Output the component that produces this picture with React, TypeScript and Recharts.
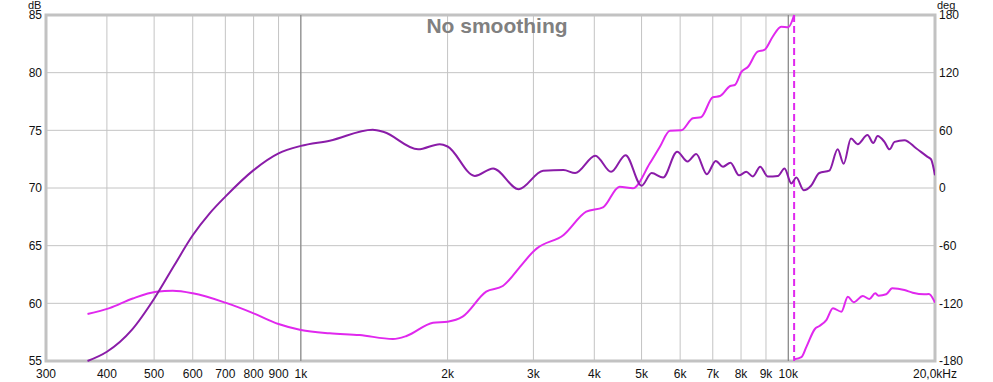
import {
  LineChart,
  Line,
  XAxis,
  YAxis,
  CartesianGrid,
  ReferenceLine,
  ReferenceArea,
} from "recharts";

// frequency ticks (Hz)
const freqTicks = [
  300, 400, 500, 600, 700, 800, 900, 1000, 2000, 3000, 4000, 5000, 6000, 7000,
  8000, 9000, 10000, 20000,
];
const dbTicks = [55, 60, 65, 70, 75, 80, 85];
const degTicks = [-180, -120, -60, 0, 60, 120, 180];
const decadeLines = [1000, 10000];

// magnitude, dB
const magFreq = [
  365, 400, 450, 500, 550, 600, 650, 700, 800, 900, 1000, 1146, 1404, 1480, 1740,
  1927, 2000, 2275, 2480, 2800, 3140, 3460, 3654, 4020, 4330, 4636, 5000, 5244,
  5536, 5915, 6216, 6473, 6808, 7098, 7349, 7610, 7925, 8199, 8460, 8760, 9070,
  9520, 9826, 10143, 10390, 10755, 11135, 11580, 12140, 12630, 12990, 13450,
  13880, 14540, 14940, 15250, 15750, 16130, 16520, 17310, 18290, 19310, 19620,
  20000,
];
const magDb = [
  55.0, 55.8, 57.7, 60.4, 63.3, 65.9, 67.8, 69.25, 71.55, 73.0, 73.65, 74.1,
  75.05, 74.85, 73.35, 73.8, 73.6, 71.05, 71.7, 69.9, 71.5, 71.55, 71.3, 72.8,
  71.4, 72.85, 70.2, 71.3, 70.9, 73.15, 72.3, 72.95, 71.2, 72.35, 71.85, 72.2,
  71.1, 71.4, 71.0, 71.85, 71.0, 71.05, 71.7, 70.4, 70.9, 69.8, 70.2, 71.3,
  71.5, 73.35, 72.1, 74.3, 73.8, 74.6, 73.9, 74.5, 74.0, 73.35, 74.0, 74.15,
  73.45, 72.7, 72.5, 71.1,
];

// phase below the wrap, deg
const phaseFreqA = [
  365, 405, 452, 505, 546, 600, 700, 800, 900, 1000, 1146, 1320, 1545, 1647,
  1867, 2000, 2147, 2400, 2596, 2855, 3000, 3050, 3460, 3850, 4167, 4508, 4800,
  5200, 5453, 5717, 6032, 6372, 6620, 7000, 7245, 7600, 7770, 8020, 8270, 8650,
  8930, 9290, 9670, 10000, 10280,
];
const phaseDegA = [
  -131, -125, -115, -108, -107, -109.6, -119.3, -130.4, -141.5, -147.7, -151.2,
  -153, -157.1, -154, -140.2, -139.1, -133.9, -107.9, -102, -78.4, -66, -62.8,
  -48.9, -24.7, -20.1, 1.4, -0.3, 25.7, 43, 59.6, 60, 72.5, 73.6, 94.4, 95.7,
  106.1, 107.2, 121, 126.2, 141.8, 143.6, 157.4, 167.8, 167.2, 180,
];

// phase after the wrap
const phaseFreqB = [
  10280, 10640, 10900, 11340, 11580, 11970, 12350, 12850, 13250, 13620, 14220,
  14670, 15080, 15310, 15880, 16340, 17310, 18000, 19010, 19430, 20000,
];
const phaseDegB = [
  -178.2, -176, -165.1, -146.7, -143.6, -137.4, -125.2, -128.7, -113.1, -118.9,
  -112.4, -115.5, -109.6, -112, -110.6, -104.4, -106.1, -108.9, -110.6, -110.3,
  -119.3,
];

const wrapFreq = [10280, 10280];
const wrapDeg = [180, -180];

const magData = magFreq.map((f, i) => ({ f, v: magDb[i] }));
const phaseAData = phaseFreqA.map((f, i) => ({ f, v: phaseDegA[i] }));
const phaseBData = phaseFreqB.map((f, i) => ({ f, v: phaseDegB[i] }));
const wrapData = wrapFreq.map((f, i) => ({ f, v: wrapDeg[i] }));

const MAG = "#8a1ca8";
const PHASE = "#e028ee";
const FONT = "'Liberation Sans', Arial, sans-serif";

const fmtFreq = (f: number) =>
  f === 20000 ? "20,0kHz" : f >= 1000 ? `${f / 1000}k` : String(f);

export default function App() {
  const tick = { fill: "#111", fontSize: 12, fontFamily: FONT };
  return (
    <div
      style={{
        position: "absolute",
        left: 0,
        top: 0,
        width: 993,
        height: 382,
        background: "#fff",
        fontFamily: FONT,
      }}
    >
      <LineChart
        width={993}
        height={382}
        margin={{ top: 15, right: 0, left: 0, bottom: 0 }}
      >
        <CartesianGrid stroke="#c4c4c4" yAxisId="dB" />
        <XAxis
          dataKey="f"
          type="number"
          scale="log"
          domain={[300, 20000]}
          allowDataOverflow
          ticks={freqTicks}
          tickFormatter={fmtFreq}
          interval={0}
          tick={tick}
          axisLine={false}
          tickLine={false}
          tickSize={0}
          tickMargin={8}
          height={21}
        />
        <YAxis
          yAxisId="dB"
          domain={[55, 85]}
          ticks={dbTicks}
          interval={0}
          tick={tick}
          axisLine={false}
          tickLine={false}
          tickSize={0}
          tickMargin={4}
          width={46}
        />
        <YAxis
          yAxisId="deg"
          orientation="right"
          domain={[-180, 180]}
          ticks={degTicks}
          interval={0}
          tick={{ ...tick, textAnchor: "start" }}
          axisLine={false}
          tickLine={false}
          tickSize={0}
          tickMargin={4}
          width={58}
        />
        {decadeLines.map((f) => (
          <ReferenceLine key={f} x={f} yAxisId="dB" stroke="#7c7c7c" />
        ))}
        <ReferenceArea
          x1={300}
          x2={20000}
          y1={55}
          y2={85}
          yAxisId="dB"
          fill="none"
          stroke="#c2c2c2"
          strokeWidth={3}
        />
        <Line
          data={wrapData}
          yAxisId="deg"
          dataKey="v"
          stroke={PHASE}
          strokeWidth={2}
          strokeDasharray="7 4"
          dot={false}
          isAnimationActive={false}
        />
        <Line
          data={phaseAData}
          yAxisId="deg"
          dataKey="v"
          type="monotone"
          stroke={PHASE}
          strokeWidth={2}
          dot={false}
          isAnimationActive={false}
        />
        <Line
          data={phaseBData}
          yAxisId="deg"
          dataKey="v"
          type="monotone"
          stroke={PHASE}
          strokeWidth={2}
          dot={false}
          isAnimationActive={false}
        />
        <Line
          data={magData}
          yAxisId="dB"
          dataKey="v"
          type="monotone"
          stroke={MAG}
          strokeWidth={2}
          dot={false}
          isAnimationActive={false}
        />
      </LineChart>
      <div
        style={{
          position: "absolute",
          left: 28,
          top: 0,
          fontSize: 11,
          lineHeight: "11px",
          color: "#111",
        }}
      >
        dB
      </div>
      <div
        style={{
          position: "absolute",
          left: 937,
          top: 0,
          fontSize: 11,
          lineHeight: "11px",
          color: "#111",
        }}
      >
        deg
      </div>
      <div
        style={{
          position: "absolute",
          left: 377,
          top: 15,
          width: 240,
          textAlign: "center",
          fontSize: 21,
          lineHeight: "21px",
          fontWeight: "bold",
          color: "#808080",
        }}
      >
        No smoothing
      </div>
    </div>
  );
}
